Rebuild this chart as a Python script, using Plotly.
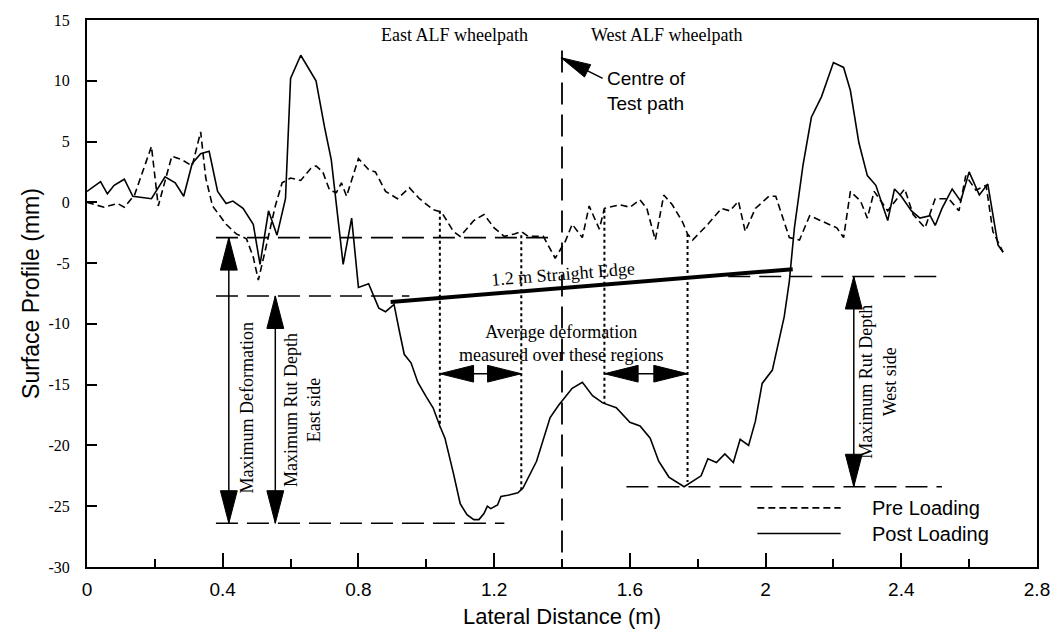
import plotly.graph_objects as go

# ---------------- data ----------------
pre_x = [0.00, 0.05, 0.09, 0.11, 0.14, 0.19, 0.21, 0.25, 0.28, 0.31, 0.335, 0.35, 0.37, 0.41, 0.44, 0.47,
         0.49, 0.505, 0.525, 0.555, 0.575, 0.60, 0.63, 0.66, 0.675, 0.695, 0.715, 0.735, 0.75, 0.765, 0.80,
         0.83, 0.85, 0.88, 0.915, 0.95, 0.98, 1.02, 1.045, 1.08, 1.10, 1.14, 1.17, 1.20, 1.23, 1.26, 1.28,
         1.30, 1.345, 1.38, 1.41, 1.43, 1.46, 1.48, 1.51, 1.525, 1.57, 1.60, 1.63, 1.65, 1.675, 1.70, 1.725,
         1.755, 1.77, 1.785, 1.83, 1.87, 1.895, 1.92, 1.94, 1.97, 2.01, 2.03, 2.07, 2.10, 2.13, 2.17, 2.21,
         2.23, 2.25, 2.28, 2.30, 2.32, 2.36, 2.41, 2.435, 2.47, 2.50, 2.54, 2.57, 2.59, 2.62, 2.65, 2.67, 2.70]
pre_y = [0.0, -0.4, -0.1, -0.4, 0.6, 4.6, -0.3, 3.8, 3.5, 3.0, 5.8, 2.0, -0.3, -1.8, -2.6, -3.0,
         -4.5, -6.4, -4.0, -0.3, 1.6, 2.0, 1.8, 2.8, 3.0, 2.5, 1.0, 0.8, 1.6, 0.5, 3.6,
         2.7, 2.5, 0.9, 0.3, 1.2, 0.3, -0.6, -0.8, -2.4, -2.8, -1.5, -1.0, -2.1, -2.8, -2.6, -2.4,
         -2.8, -2.8, -4.6, -3.2, -1.8, -2.9, -0.3, -2.2, -0.5, -0.2, -0.4, 0.2, -0.5, -3.1, 0.6, -0.2,
         -1.6, -2.6, -3.1, -1.8, -0.5, -0.7, 0.1, -2.4, -0.5, 0.5, 0.5, -2.9, -3.1, -1.1, -1.6, -2.1,
         -2.9, 0.9, 0.1, -1.3, 0.9, -0.7, 1.1, -1.0, -2.1, 0.3, 0.3, -0.7, 2.2, 1.0, 1.4, -2.4, -4.1]

post_x = [0.00, 0.04, 0.06, 0.08, 0.11, 0.135, 0.19, 0.23, 0.26, 0.285, 0.31, 0.335, 0.36, 0.385, 0.41,
          0.43, 0.46, 0.49, 0.51, 0.535, 0.56, 0.585, 0.60, 0.63, 0.675, 0.70, 0.72, 0.755, 0.78, 0.80,
          0.83, 0.86, 0.88, 0.905, 0.92, 0.935, 0.955, 0.975, 1.00, 1.02, 1.04, 1.055, 1.08, 1.10, 1.12,
          1.14, 1.155, 1.17, 1.18, 1.19, 1.21, 1.22, 1.24, 1.27, 1.285, 1.325, 1.365, 1.39, 1.43, 1.46,
          1.49, 1.52, 1.56, 1.60, 1.63, 1.66, 1.685, 1.715, 1.76, 1.81, 1.83, 1.855, 1.88, 1.905, 1.925,
          1.95, 1.97, 1.99, 2.02, 2.035, 2.055, 2.07, 2.085, 2.11, 2.135, 2.165, 2.20, 2.23, 2.25, 2.275,
          2.30, 2.325, 2.36, 2.38, 2.40, 2.43, 2.455, 2.485, 2.50, 2.52, 2.55, 2.575, 2.60, 2.63, 2.655,
          2.685, 2.70]
post_y = [0.9, 1.7, 0.7, 1.4, 1.9, 0.5, 0.3, 2.1, 1.6, 0.5, 3.2, 4.0, 4.2, 0.9, -0.1,
          0.1, -0.5, -1.8, -5.1, -0.7, -2.7, 0.3, 10.2, 12.1, 10.0, 6.2, 3.5, -5.1, -1.3, -7.0,
          -6.7, -8.7, -9.0, -8.4, -10.5, -12.5, -13.2, -14.8, -16.0, -16.9, -18.4, -19.4, -22.3, -24.8, -25.7,
          -26.1, -26.1, -25.6, -25.0, -25.2, -24.9, -24.2, -24.1, -23.9, -23.5, -21.3, -17.7, -16.7, -15.3, -14.8,
          -15.9, -16.5, -16.9, -18.1, -18.4, -19.4, -21.3, -22.6, -23.4, -22.5, -21.1, -21.4, -20.7, -21.4, -19.5,
          -20.0, -18.0, -14.9, -13.8, -11.8, -9.4, -6.5, -2.1, 3.0, 7.0, 8.7, 11.5, 11.1, 9.2, 4.9,
          2.2, 1.4, -1.5, 1.1, 0.5, -0.7, -1.3, -1.1, -1.9, -0.5, 1.1, 0.1, 2.5, 0.6, 1.5,
          -3.5, -4.1]

series_names = ["Pre Loading", "Post Loading"]
x_ticks = [0, 0.4, 0.8, 1.2, 1.6, 2.0, 2.4, 2.8]
x_tick_text = ["0", "0.4", "0.8", "1.2", "1.6", "2", "2.4", "2.8"]
y_ticks = [-30, -25, -20, -15, -10, -5, 0, 5, 10, 15]
y_tick_text = ["-30", "-25", "-20", "-15", "-10", "-5", "0", "5", "10", "15"]

# ---------------- geometry helpers ----------------
W, H = 1062, 637
ML, MR, MT, MB = 87, 17, 19, 63
XR = [0, 2.8]
YR = [-30, 15]
PW, PH = W - ML - MR, H - MT - MB
PXM = PW / (XR[1] - XR[0])
PXMM = PH / (YR[1] - YR[0])

SERIF = "Liberation Serif, Times New Roman, serif"
SANS = "Liberation Sans, Arial, sans-serif"

PRE_DASH = "7px,4px"

fig = go.Figure()
fig.add_trace(go.Scatter(x=pre_x, y=pre_y, mode="lines", name=series_names[0], showlegend=False,
                         line=dict(color="black", width=1.6, dash=PRE_DASH)))
fig.add_trace(go.Scatter(x=post_x, y=post_y, mode="lines", name=series_names[1], showlegend=False,
                         line=dict(color="black", width=1.6)))

shapes = []


def hline(y, x0, x1, dash="22px,9px", width=1.6):
    shapes.append(dict(type="line", x0=x0, x1=x1, y0=y, y1=y, xref="x", yref="y",
                       line=dict(color="black", width=width, dash=dash)))


def vline(x, y0, y1, dash="dot", width=2):
    shapes.append(dict(type="line", x0=x, x1=x, y0=y0, y1=y1, xref="x", yref="y",
                       line=dict(color="black", width=width, dash=dash)))


def tri(tx, ty, ux, uy, L=33, Wd=17):
    n = (ux ** 2 + uy ** 2) ** 0.5
    ux, uy = ux / n, uy / n
    bx = tx - ux * L / PXM
    by = ty - uy * L / PXMM
    px, py = -uy, ux
    x1 = bx + px * Wd / 2 / PXM
    y1 = by + py * Wd / 2 / PXMM
    x2 = bx - px * Wd / 2 / PXM
    y2 = by - py * Wd / 2 / PXMM
    shapes.append(dict(type="path", xref="x", yref="y",
                       path=f"M {tx},{ty} L {x1},{y1} L {x2},{y2} Z",
                       fillcolor="black", line=dict(color="black", width=1)))


def varrow(x, ytop, ybot):
    vline(x, ytop, ybot, dash="solid", width=1.5)
    tri(x, ytop, 0, 1)
    tri(x, ybot, 0, -1)


def harrow(y, xl, xr):
    shapes.append(dict(type="line", x0=xl, x1=xr, y0=y, y1=y, xref="x", yref="y",
                       line=dict(color="black", width=1.5)))
    tri(xl, y, -1, 0, L=34, Wd=17)
    tri(xr, y, 1, 0, L=34, Wd=17)


# reference dashed lines
hline(-2.9, 0.38, 1.37)
hline(-7.7, 0.38, 0.95)
hline(-6.1, 1.89, 2.52)
hline(-26.4, 0.38, 1.23)
hline(-23.4, 1.59, 2.52)
# centre of test path
vline(1.40, 12.5, -30, dash="22px,10px", width=1.8)
# dotted region limits
vline(1.04, -0.7, -18.5)
vline(1.28, -2.7, -23.7)
vline(1.525, -0.6, -16.5)
vline(1.77, -2.6, -23.0)
# straight edge
shapes.append(dict(type="line", x0=0.895, y0=-8.2, x1=2.08, y1=-5.5, xref="x", yref="y",
                   line=dict(color="black", width=4)))
# arrows
varrow(0.418, -2.9, -26.4)
varrow(0.555, -7.7, -26.4)
varrow(2.26, -6.1, -23.4)
harrow(-14.1, 1.04, 1.28)
harrow(-14.1, 1.525, 1.77)
# centre arrow
tip_x, tip_y = 1.397, 11.9
tail_x, tail_y = 1.52, 10.2
shapes.append(dict(type="line", x0=tail_x, y0=tail_y, x1=tip_x, y1=tip_y, xref="x", yref="y",
                   line=dict(color="black", width=1.5)))
tri(tip_x, tip_y, (tip_x - tail_x) * PXM, (tip_y - tail_y) * PXMM, L=30, Wd=14)

annotations = []


def txt(x, y, s, size=18, font=SERIF, angle=0, xanchor="center", align="center"):
    annotations.append(dict(x=x, y=y, xref="x", yref="y", text=s, showarrow=False,
                            textangle=angle, xanchor=xanchor, yanchor="middle", align=align,
                            font=dict(family=font, size=size, color="black")))


txt(1.082, 13.8, "East ALF wheelpath")
txt(1.71, 13.8, "West ALF wheelpath")
txt(1.526, 9.2, "Centre of<br>Test path", size=19, font=SANS, xanchor="left", align="left")
txt(1.403, -5.9, "1.2 m Straight Edge", angle=-4.5)
txt(1.397, -11.65, "Average deformation<br>measured over these regions")
txt(0.471, -16.9, "Maximum Deformation", angle=-90)
txt(0.633, -17.1, "Maximum Rut Depth<br>East side", angle=-90)
txt(2.33, -14.8, "Maximum Rut Depth<br>West side", angle=-90)

# key (legend) drawn in the lower right corner
KEY_FS = 20
key_x0 = (763 - ML) / PW
key_x1 = (847 - ML) / PW
key_tx = (877 - ML) / PW
row_gap = KEY_FS * 1.3
key_mid = 527
for i, dsh in enumerate([PRE_DASH, "solid"]):
    ky = (H - MB - (key_mid + (i - 0.5) * row_gap)) / PH
    shapes.append(dict(type="line", xref="paper", yref="paper", x0=key_x0, x1=key_x1, y0=ky, y1=ky,
                       line=dict(color="black", width=1.6, dash=dsh)))
annotations.append(dict(x=key_tx, y=(H - MB - key_mid) / PH, xref="paper", yref="paper",
                        text="<br>".join(series_names), showarrow=False, align="left",
                        xanchor="left", yanchor="middle",
                        font=dict(family=SANS, size=KEY_FS, color="black")))

fig.update_layout(
    width=W, height=H,
    margin=dict(l=ML, r=MR, t=MT, b=MB),
    paper_bgcolor="white", plot_bgcolor="white",
    shapes=shapes, annotations=annotations,
    showlegend=False,
    xaxis=dict(range=XR, tickvals=x_ticks, ticktext=x_tick_text, ticks="inside", ticklen=14,
               tickwidth=1.5, tickcolor="black", showline=True, linewidth=2, linecolor="black",
               mirror=True, showgrid=False, zeroline=False, ticklabelstandoff=4,
               minor=dict(dtick=0.2, ticks="inside", ticklen=8, tickwidth=1.5, tickcolor="black",
                          showgrid=False),
               tickfont=dict(family=SANS, size=19, color="black"),
               title=dict(text="Lateral Distance (m)", font=dict(family=SANS, size=22, color="black"),
                          standoff=10)),
    yaxis=dict(range=YR, tickvals=y_ticks, ticktext=y_tick_text, ticks="inside", ticklen=10,
               tickwidth=1.5, tickcolor="black", showline=True, linewidth=2, linecolor="black",
               mirror=True, showgrid=False, zeroline=False, ticklabelstandoff=12,
               tickfont=dict(family=SERIF, size=16, color="black"),
               title=dict(text="Surface Profile (mm)", font=dict(family=SANS, size=23, color="black"),
                          standoff=2)),
)

fig.write_html("out.html")
